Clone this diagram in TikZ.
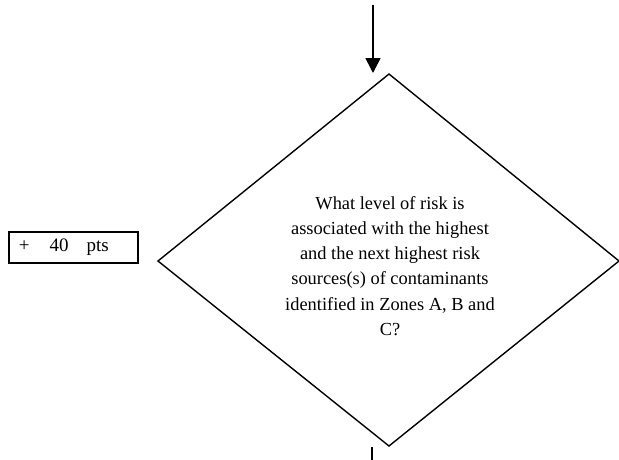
\documentclass[tikz,border=0pt]{standalone}
\usepackage{fontspec}
\setmainfont{Liberation Serif}
\usetikzlibrary{arrows.meta}
\begin{document}
\begin{tikzpicture}[x=1pt,y=-1pt,
  edge/.style={line width=1.4pt},
  flow/.style={line width=1.6pt,-{Triangle[width=15pt,length=15pt]}},
  ptsbox/.style={draw,line width=2.2pt,minimum width=129pt,minimum height=31pt,inner xsep=0pt,inner ysep=0pt,text width=129pt,align=left},
  qtext/.style={align=center,font=\fontsize{18.4}{25.2}\selectfont,inner sep=0pt}]
\useasboundingbox (0,0) rectangle (619,459);
\coordinate (T) at (389,74);
\coordinate (L) at (158,261);
\coordinate (R) at (619,261);
\coordinate (B) at (389,446);
\draw[edge] (T) -- (R) -- (B) -- (L) -- cycle;
\coordinate (in) at (373,5);
\coordinate (intip) at (373,73);
\draw[flow] (in) -- (intip);
\coordinate (out1) at (372,447);
\coordinate (out2) at (372,460);
\draw[line width=1.8pt] (out1) -- (out2);
\node[qtext] (q) at (390,266) {What level of risk is\\associated with the highest\\and the next highest risk\\sources(s) of contaminants\\identified in Zones A, B and\\C?};
\node[ptsbox,font=\fontsize{19}{22}\selectfont] (pts) at (73.5,247.5) {\hspace*{10pt}+\hspace{20pt}40\hspace{18pt}pts};
\end{tikzpicture}
\end{document}
